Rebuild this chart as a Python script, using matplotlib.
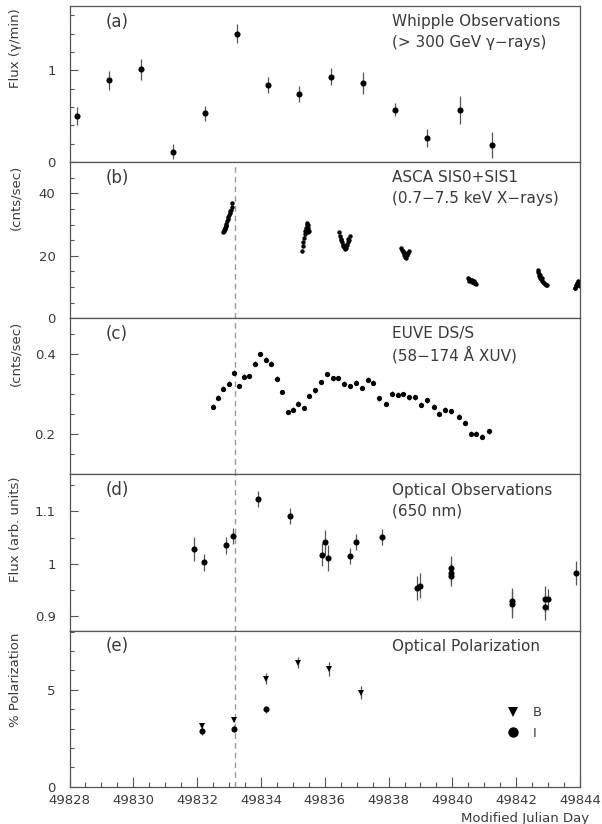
import matplotlib
matplotlib.use("Agg")
import matplotlib.pyplot as plt
from matplotlib.ticker import MultipleLocator, FuncFormatter
from matplotlib.lines import Line2D

plt.rcParams['font.family'] = ['DejaVu Sans']

# (a) Whipple TeV flux
whipple_mjd = [49828.22, 49829.23, 49830.24, 49831.24, 49832.24, 49833.24, 49834.23,
               49835.20, 49836.19, 49837.20, 49838.21, 49839.21, 49840.23, 49841.23]
whipple_flux = [0.505, 0.89, 1.01, 0.115, 0.53, 1.40, 0.84, 0.74, 0.93, 0.86, 0.57, 0.26, 0.57, 0.19]
whipple_err = [0.10, 0.10, 0.115, 0.085, 0.08, 0.105, 0.087, 0.085, 0.09, 0.12, 0.07, 0.10, 0.15, 0.14]

# (b) ASCA SIS0+SIS1 count rate
asca_mjd = [49832.82, 49832.84, 49832.86, 49832.88, 49832.90, 49832.92, 49832.94, 49832.96,
            49832.98, 49833.00, 49833.02, 49833.04, 49833.06, 49833.08, 49833.10,
            49832.85, 49832.87, 49832.89,
            49835.28, 49835.31, 49835.33, 49835.35, 49835.37, 49835.39, 49835.41, 49835.43,
            49835.45, 49835.47, 49835.49, 49835.51, 49835.46,
            49836.46, 49836.49, 49836.52, 49836.55, 49836.58, 49836.61, 49836.64, 49836.67,
            49836.70, 49836.73, 49836.76, 49836.78, 49836.50, 49836.56, 49836.66, 49836.72,
            49838.39, 49838.42, 49838.45, 49838.48, 49838.51, 49838.54, 49838.57, 49838.60,
            49838.63, 49838.44, 49838.50,
            49840.48, 49840.51, 49840.54, 49840.57, 49840.60, 49840.63, 49840.66, 49840.69,
            49840.72, 49840.74, 49840.52, 49840.60, 49840.68,
            49842.67, 49842.69, 49842.71, 49842.73, 49842.76, 49842.79, 49842.82, 49842.85,
            49842.88, 49842.91, 49842.94, 49842.97, 49842.75, 49842.80,
            49843.83, 49843.86, 49843.89, 49843.92, 49843.95, 49843.98, 49844.00, 49843.85,
            49843.94]
asca_rate = [27.6, 28.2, 28.6, 29.0, 29.6, 30.3, 31.0, 31.8,
             32.5, 33.0, 33.6, 34.2, 34.8, 35.5, 37.0,
             27.9, 28.8, 29.4,
             21.4, 23.0, 24.5, 25.8, 27.0, 28.0, 29.0, 29.8,
             30.5, 30.0, 28.8, 28.0, 27.5,
             27.5, 26.5, 25.4, 24.4, 23.5, 22.8, 22.3, 22.6,
             23.4, 24.3, 25.2, 26.2, 25.0, 23.0, 23.6, 25.4,
             22.6, 22.0, 21.2, 20.4, 19.6, 19.3, 20.2, 21.0,
             21.6, 21.5, 21.0,
             12.9, 12.6, 12.4, 12.1, 11.9, 11.7, 11.5, 11.4,
             11.3, 11.0, 12.0, 12.3, 11.9,
             15.4, 14.8, 14.2, 13.6, 13.0, 12.5, 12.0, 11.6,
             11.2, 10.9, 10.7, 10.6, 13.8, 12.9,
             9.8, 10.3, 10.8, 11.2, 11.0, 10.6, 10.3, 9.6,
             11.8]

# (c) EUVE DS/S count rate
euve_mjd = [49832.49, 49832.66, 49832.82, 49833.00, 49833.16, 49833.32, 49833.48, 49833.63,
            49833.81, 49833.97, 49834.16, 49834.33, 49834.51, 49834.67, 49834.84, 49834.99,
            49835.17, 49835.36, 49835.51, 49835.69, 49835.88, 49836.06, 49836.25, 49836.42,
            49836.60, 49836.79, 49836.98, 49837.17, 49837.36, 49837.52, 49837.71, 49837.92,
            49838.11, 49838.30, 49838.46, 49838.64, 49838.82, 49839.03, 49839.22, 49839.42,
            49839.59, 49839.76, 49839.97, 49840.21, 49840.40, 49840.57, 49840.74, 49840.94,
            49841.15]
euve_rate = [0.269, 0.292, 0.314, 0.327, 0.354, 0.321, 0.344, 0.346,
             0.377, 0.401, 0.387, 0.377, 0.339, 0.306, 0.256, 0.262,
             0.277, 0.266, 0.296, 0.310, 0.331, 0.351, 0.340, 0.341,
             0.327, 0.321, 0.329, 0.316, 0.337, 0.329, 0.290, 0.276,
             0.302, 0.299, 0.301, 0.293, 0.293, 0.274, 0.285, 0.269,
             0.252, 0.262, 0.258, 0.244, 0.229, 0.202, 0.202, 0.194,
             0.208]

# (d) optical flux (650 nm)
opt_mjd = [49831.90, 49832.21, 49832.91, 49833.11, 49833.91, 49834.90, 49835.90, 49836.00,
           49836.10, 49836.80, 49836.99, 49837.78, 49838.88, 49838.98, 49839.97, 49839.97,
           49839.97, 49841.88, 49841.88, 49842.90, 49842.90, 49843.00, 49843.89]
opt_flux = [1.028, 1.003, 1.035, 1.053, 1.124, 1.092, 1.017, 1.041,
            1.011, 1.015, 1.041, 1.051, 0.954, 0.958, 0.992, 0.983,
            0.977, 0.928, 0.922, 0.932, 0.917, 0.932, 0.982]
opt_err = [0.023, 0.016, 0.016, 0.015, 0.015, 0.015, 0.022, 0.024,
           0.024, 0.015, 0.015, 0.015, 0.023, 0.024, 0.022, 0.02,
           0.02, 0.025, 0.025, 0.025, 0.025, 0.02, 0.023]

# (e) optical polarization
pol_b_mjd = [49832.15, 49833.15, 49834.15, 49835.15, 49836.14, 49837.14]
pol_b = [3.13, 3.46, 5.57, 6.39, 6.08, 4.85]
pol_b_err = [0.15, 0.15, 0.3, 0.28, 0.35, 0.33]
pol_i_mjd = [49832.15, 49833.15, 49834.15]
pol_i = [2.86, 3.0, 3.99]
pol_i_err = [0.2, 0.2, 0.17]

flare_mjd = 49833.2

ink = '#3a3a3a'
frame = '#555555'


def fmt(v, pos):
    return '%g' % v


fig = plt.figure(figsize=(6.02, 8.24), dpi=100)
left, width = 69.5 / 602, 510.5 / 602
bottom, top = 1 - 786.7 / 824, 1 - 6 / 824
h = (top - bottom) / 5

axes = []
for i in range(5):
    ax = fig.add_axes([left, top - (i + 1) * h, width, h])
    ax.set_xlim(49828, 49844)
    for s in ax.spines.values():
        s.set_color(frame)
        s.set_linewidth(0.9)
    ax.tick_params(axis='y', which='major', direction='in', length=6, width=0.8,
                   color=frame, labelsize=9.5, labelcolor=ink, pad=10)
    ax.tick_params(axis='y', which='minor', direction='in', length=3, width=0.8, color=frame)
    ax.tick_params(axis='x', which='both', bottom=False, labelbottom=False)
    ax.yaxis.set_major_formatter(FuncFormatter(fmt))
    axes.append(ax)

ax_a, ax_b, ax_c, ax_d, ax_e = axes

ebar = dict(fmt='o', color='black', ecolor='#555555', elinewidth=0.9, capsize=0, mew=0)

# (a)
ax_a.errorbar(whipple_mjd, whipple_flux, yerr=whipple_err, ms=4.4, **ebar)
ax_a.set_ylim(0, 1.7)
ax_a.yaxis.set_major_locator(MultipleLocator(1))
ax_a.yaxis.set_minor_locator(MultipleLocator(0.2))
ax_a.set_ylabel('Flux (γ/min)', loc='top', color=ink, fontsize=9.5)

# (b)
ax_b.plot(asca_mjd, asca_rate, 'o', color='black', ms=3.2, mew=0)
ax_b.set_ylim(0, 50)
ax_b.yaxis.set_major_locator(MultipleLocator(20))
ax_b.yaxis.set_minor_locator(MultipleLocator(5))
ax_b.set_ylabel('(cnts/sec)', loc='top', color=ink, fontsize=9.5)

# (c)
ax_c.errorbar(euve_mjd, euve_rate, yerr=0.006, ms=3.8, **ebar)
ax_c.set_ylim(0.1, 0.49)
ax_c.yaxis.set_major_locator(MultipleLocator(0.2))
ax_c.yaxis.set_minor_locator(MultipleLocator(0.05))
ax_c.set_ylabel('(cnts/sec)', loc='top', color=ink, fontsize=9.5)

# (d)
ax_d.errorbar(opt_mjd, opt_flux, yerr=opt_err, ms=4.4, **ebar)
ax_d.set_ylim(0.872, 1.171)
ax_d.yaxis.set_major_locator(MultipleLocator(0.1))
ax_d.yaxis.set_minor_locator(MultipleLocator(0.05))
ax_d.set_ylabel('Flux (arb. units)', loc='top', color=ink, fontsize=9.5)

# (e)
ax_e.errorbar(pol_b_mjd, pol_b, yerr=pol_b_err, fmt='v', ms=4.2, color='black',
              ecolor='#555555', elinewidth=0.9, capsize=0, mew=0)
ax_e.errorbar(pol_i_mjd, pol_i, yerr=pol_i_err, fmt='o', ms=4.4, color='black',
              ecolor='#555555', elinewidth=0.9, capsize=0, mew=0)
ax_e.set_ylim(0, 8.05)
ax_e.yaxis.set_major_locator(MultipleLocator(5))
ax_e.yaxis.set_minor_locator(MultipleLocator(1))
ax_e.set_ylabel('% Polarization', loc='top', color=ink, fontsize=9.5)
ax_e.xaxis.set_major_locator(MultipleLocator(2))
ax_e.xaxis.set_minor_locator(MultipleLocator(0.5))
ax_e.tick_params(axis='x', which='major', bottom=True, labelbottom=True, direction='in',
                 length=7, width=0.8, color=frame, labelsize=9.5, labelcolor=ink, pad=5)
ax_e.tick_params(axis='x', which='minor', bottom=True, direction='in', length=3.5,
                 width=0.8, color=frame)
ax_e.xaxis.set_major_formatter(FuncFormatter(lambda v, p: '%d' % v))
ax_e.set_xlabel('Modified Julian Day', loc='right', color=ink, fontsize=9.5)
ax_e.xaxis.set_label_coords(1.018, -0.165)

handles = [Line2D([], [], marker='v', ls='none', color='black', ms=7.5, mew=0),
           Line2D([], [], marker='o', ls='none', color='black', ms=7.5, mew=0)]
leg = ax_e.legend(handles, ['B', 'I'], loc='upper left', bbox_to_anchor=(0.83, 0.59),
                  frameon=False, fontsize=9.5, handletextpad=0.9, labelspacing=0.55,
                  handlelength=1.2)
for t in leg.get_texts():
    t.set_color(ink)

for ax in axes:
    ax.yaxis.set_label_coords(-0.093, 0.985)

for ax in axes[1:]:
    ax.axvline(flare_mjd, color='#999999', lw=1.0, ls=(0, (4, 3)))

# panel labels and captions
panel_tags = ['(a)', '(b)', '(c)', '(d)', '(e)']
captions = [('Whipple Observations', '(> 300 GeV γ−rays)'),
            ('ASCA SIS0+SIS1', '(0.7−7.5 keV X−rays)'),
            ('EUVE DS/S', '(58−174 Å XUV)'),
            ('Optical Observations', '(650 nm)'),
            ('Optical Polarization', '')]
for ax, tag, (l1, l2) in zip(axes, panel_tags, captions):
    ax.text(0.093, 0.9, tag, transform=ax.transAxes, ha='center', va='center',
            fontsize=12, color=ink)
    ax.text(0.632, 0.9, l1, transform=ax.transAxes, ha='left', va='center',
            fontsize=11, color=ink)
    if l2:
        ax.text(0.632, 0.767, l2, transform=ax.transAxes, ha='left', va='center',
                fontsize=11, color=ink)

fig.savefig('out.png', dpi=100)
